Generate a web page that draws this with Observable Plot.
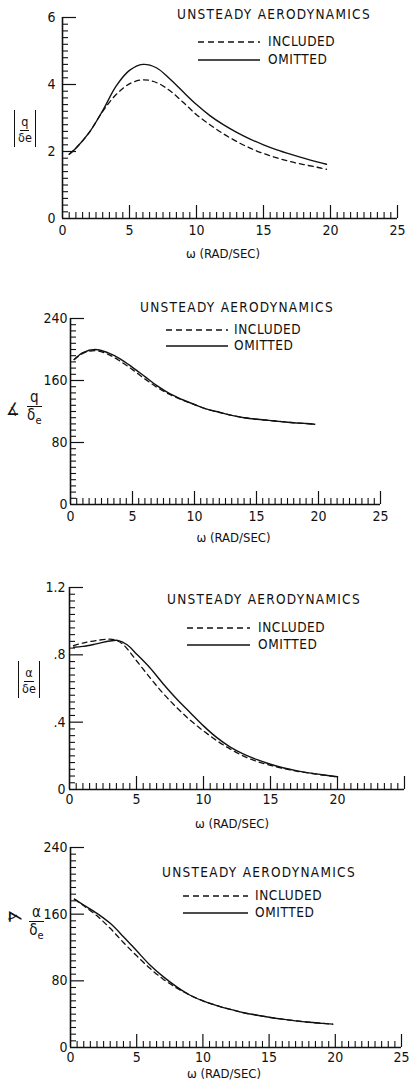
<!DOCTYPE html>
<html>
<head>
<meta charset="utf-8">
<script src="https://cdn.jsdelivr.net/npm/d3@7"></script>
<script src="https://cdn.jsdelivr.net/npm/@observablehq/plot@0.6"></script>
<style>
  html, body { margin: 0; padding: 0; background: #fff; }
  #wrap { position: relative; width: 410px; height: 1092px; overflow: hidden;
    font-family: "Liberation Sans Narrow", "DejaVu Sans Condensed", "Liberation Sans", sans-serif; color: #111; }
  .panel { position: absolute; left: 0; }
  .ov { position: absolute; white-space: nowrap; line-height: 1; }
  .ltitle { font-size: 13.5px; letter-spacing: 1.3px; }
  .ltext { font-size: 13.5px; letter-spacing: 0.6px; }
  .frac { display: inline-flex; flex-direction: column; align-items: center; line-height: 1; }
  .frac .num { border-bottom: 1.3px solid #111; padding: 0 1px 1px 1px; }
  .frac .den { padding-top: 1px; }
  .bars { border-left: 1.5px solid #111; border-right: 1.5px solid #111; padding: 3px 3px; }
</style>
</head>
<body>
<div id="wrap"></div>
<script>
// ---------- text ----------
const xTitle = "ω (RAD/SEC)";
const legendTitle = "UNSTEADY AERODYNAMICS";
const seriesNames = ["INCLUDED", "OMITTED"];

// ---------- tick labels ----------
const xTicksFull = [0, 5, 10, 15, 20, 25];
const xTicksPanel3 = [0, 5, 10, 15, 20];
const yTicks1 = [0, 2, 4, 6];
const yTickText1 = ["0", "2", "4", "6"];
const yTicks2 = [0, 80, 160, 240];
const yTickText2 = ["0", "80", "160", "240"];
const yTicks3 = [0, 0.4, 0.8, 1.2];
const yTickText3 = ["0", ".4", ".8", "1.2"];
const yTicks4 = [0, 80, 160, 240];
const yTickText4 = ["0", "80", "160", "240"];

// ---------- panel 1: |q/δe| ----------
const omega1    = [0.5, 1, 2, 3, 4, 5, 6, 7, 8, 9, 10, 11, 12, 13, 14, 15, 16, 17, 18, 19, 19.7];
const included1 = [1.92, 2.1, 2.57, 3.2, 3.7, 4.02, 4.14, 4.06, 3.82, 3.47, 3.1, 2.8, 2.53, 2.3, 2.1, 1.94, 1.81, 1.7, 1.61, 1.53, 1.47];
const omitted1  = [1.92, 2.1, 2.57, 3.22, 3.95, 4.42, 4.6, 4.5, 4.17, 3.78, 3.4, 3.07, 2.8, 2.57, 2.37, 2.2, 2.05, 1.92, 1.8, 1.69, 1.62];

// ---------- panel 2: ∡ q/δe ----------
const omega2    = [0.3, 1, 2, 3, 4, 5, 6, 7, 8, 9, 10, 11, 12, 13, 14, 15, 16, 17, 18, 19, 19.7];
const included2 = [187, 195, 198.5, 194, 185, 174, 162, 151, 142, 135, 129, 123, 119, 115, 112, 110, 108.5, 107, 105.5, 104.5, 103.5];
const omitted2  = [187, 196, 200, 196, 188, 177, 165, 153, 143, 135.5, 129, 123, 119, 115, 112, 110, 108.5, 107, 105.5, 104.5, 103.5];

// ---------- panel 3: |α/δe| ----------
const omega3i   = [0.3, 1, 2, 3, 3.5, 4, 5, 6, 7, 8, 9, 10, 11, 12, 13, 14, 15, 16, 17, 18, 19, 20];
const included3 = [0.855, 0.87, 0.885, 0.893, 0.885, 0.862, 0.765, 0.665, 0.57, 0.487, 0.412, 0.348, 0.29, 0.24, 0.198, 0.167, 0.143, 0.124, 0.108, 0.096, 0.085, 0.075];
const omega3o   = [0.3, 1, 2, 3, 3.6, 4.3, 5, 6, 7, 8, 9, 10, 11, 12, 13, 14, 15, 16, 17, 18, 19, 20];
const omitted3  = [0.845, 0.85, 0.865, 0.882, 0.886, 0.86, 0.805, 0.723, 0.627, 0.538, 0.458, 0.378, 0.308, 0.252, 0.21, 0.177, 0.15, 0.128, 0.111, 0.097, 0.086, 0.076];

// ---------- panel 4: ∡ α/δe ----------
const omega4    = [0.3, 1, 2, 3, 4, 5, 6, 7, 8, 9, 10, 11, 12, 13, 14, 15, 16, 17, 18, 19, 19.8];
const included4 = [178, 170, 158, 143, 126, 110, 95, 82, 71.5, 63, 56, 50.5, 46, 42, 39, 36.3, 34, 32, 30.3, 29, 28];
const omitted4  = [178, 171, 161, 149, 133, 116, 99, 85, 73, 63, 56, 50.5, 46, 42, 39, 36.3, 34, 32, 30.3, 29, 28];

// ---------- layout (positions only) ----------
const panels = [
  { top: 0, height: 270, mt: 17, mb: 52, ml: 62, mr: 13, ymax: 6, ystep: 0.2,
    yTicks: yTicks1, yText: yTickText1, yPad: 7, xTicks: xTicksFull, xPad: 7,
    omegaI: omega1, omegaO: omega1, included: included1, omitted: omitted1,
    titleDx: -7, titleDy: 39,
    leg: { tx: 177, ty: 15, sx: 198, sw: 62, r1: 42, r2: 60, lx: 268 },
    ylab: { kind: "abs", num: "q", left: 14, top: 110 } },
  { top: 270, height: 290, mt: 48, mb: 56, ml: 70, mr: 30, ymax: 240, ystep: 8,
    yTicks: yTicks2, yText: yTickText2, yPad: 3, xTicks: xTicksFull, xPad: 7,
    omegaI: omega2, omegaO: omega2, included: included2, omitted: omitted2,
    titleDx: 8, titleDy: 37,
    leg: { tx: 140, ty: 308, sx: 166, sw: 62, r1: 330, r2: 346, lx: 234 },
    ylab: { kind: "ang", num: "q", angLeft: 6, angTop: 401, left: 27, top: 389 } },
  { top: 560, height: 270, mt: 27, mb: 41, ml: 69, mr: 6, ymax: 1.2, ystep: 0.04,
    yTicks: yTicks3, yText: yTickText3, yPad: 4, xTicks: xTicksPanel3, xPad: 5,
    omegaI: omega3i, omegaO: omega3o, included: included3, omitted: omitted3,
    titleDx: -5, titleDy: 38,
    leg: { tx: 167, ty: 600, sx: 187, sw: 63, r1: 628, r2: 645, lx: 258 },
    ylab: { kind: "abs", num: "α", left: 18, top: 661 } },
  { top: 830, height: 262, mt: 17, mb: 45, ml: 70, mr: 9, ymax: 240, ystep: 8,
    yTicks: yTicks4, yText: yTickText4, yPad: 3, xTicks: xTicksFull, xPad: 5,
    omegaI: omega4, omegaO: omega4, included: included4, omitted: omitted4,
    titleDx: -12, titleDy: 30,
    leg: { tx: 162, ty: 873, sx: 183, sw: 65, r1: 896, r2: 913, lx: 255 },
    ylab: { kind: "ang", num: "α", rotate: true, angLeft: 8, angTop: 908, left: 29, top: 904 } }
];

const wrap = document.getElementById("wrap");
const FONT = '"Liberation Sans Narrow", "DejaVu Sans Condensed", "Liberation Sans", sans-serif';

function buildPanel(p) {
  const rowsI = p.omegaI.map((w, i) => ({ w, v: p.included[i], s: seriesNames[0] }));
  const rowsO = p.omegaO.map((w, i) => ({ w, v: p.omitted[i], s: seriesNames[1] }));

  const xMinor = d3.range(0, 51).filter(i => i % 10 !== 0).map(i => i * 0.5);
  const xMajor = d3.range(1, 6).map(i => i * 5);
  const yMinor = d3.range(0, 31).filter(i => i % 10 !== 0).map(i => i * p.ystep);
  const yMajor = p.yTicks.filter(v => v !== 0);
  const textOf = new Map(p.yTicks.map((t, i) => [t, p.yText[i]]));

  const chart = Plot.plot({
    width: 410, height: p.height,
    marginTop: p.mt, marginBottom: p.mb, marginLeft: p.ml, marginRight: p.mr,
    x: { domain: [0, 25], label: null },
    y: { domain: [0, p.ymax], label: null },
    style: { fontFamily: FONT, fontSize: "14px", color: "#111", background: "transparent", overflow: "visible" },
    marks: [
      // inward tick marks
      Plot.axisX({ ticks: xMinor, anchor: "bottom", tickSize: 6, dy: -6, tickFormat: () => "", label: null, strokeWidth: 1.1 }),
      Plot.axisX({ ticks: xMajor, anchor: "bottom", tickSize: 13, dy: -13, tickFormat: () => "", label: null, strokeWidth: 1.2 }),
      Plot.axisY({ ticks: yMinor, anchor: "left", tickSize: 6, dx: 6, tickFormat: () => "", label: null, strokeWidth: 1.1 }),
      Plot.axisY({ ticks: yMajor, anchor: "left", tickSize: 14, dx: 14, tickFormat: () => "", label: null, strokeWidth: 1.2 }),
      // tick labels
      Plot.axisX({ ticks: p.xTicks, anchor: "bottom", tickSize: 0, tickPadding: p.xPad, label: null, fontSize: 14 }),
      Plot.axisY({ ticks: p.yTicks, anchor: "left", tickSize: 0, tickPadding: p.yPad, tickFormat: d => textOf.get(d), label: null, fontSize: 14 }),
      // axis lines
      Plot.ruleX([0], { stroke: "#111", strokeWidth: 1.6 }),
      Plot.ruleY([0], { stroke: "#111", strokeWidth: 1.6 }),
      // curves
      Plot.line(rowsO, { x: "w", y: "v", curve: "catmull-rom", stroke: "#111", strokeWidth: 1.4 }),
      Plot.line(rowsI, { x: "w", y: "v", curve: "catmull-rom", stroke: "#111", strokeWidth: 1.3, strokeDasharray: "5,4" }),
      // x title
      Plot.text([xTitle], { frameAnchor: "bottom", dx: p.titleDx, dy: p.titleDy, fontSize: 13, fill: "#111" })
    ]
  });

  const holder = document.createElement("div");
  holder.className = "panel";
  holder.style.top = p.top + "px";
  holder.appendChild(chart);
  wrap.appendChild(holder);

  // legend
  const L = p.leg;
  const t = document.createElement("div");
  t.className = "ov ltitle";
  t.textContent = legendTitle;
  t.style.left = L.tx + "px"; t.style.top = (L.ty - 7) + "px";
  wrap.appendChild(t);
  [[L.r1, "6,4", seriesNames[0]], [L.r2, null, seriesNames[1]]].forEach(([y, dash, name]) => {
    const s = document.createElementNS("http://www.w3.org/2000/svg", "svg");
    s.setAttribute("width", L.sw); s.setAttribute("height", 4);
    s.style.position = "absolute"; s.style.left = L.sx + "px"; s.style.top = (y - 2) + "px";
    const ln = document.createElementNS("http://www.w3.org/2000/svg", "line");
    ln.setAttribute("x1", 0); ln.setAttribute("x2", L.sw); ln.setAttribute("y1", 2); ln.setAttribute("y2", 2);
    ln.setAttribute("stroke", "#111"); ln.setAttribute("stroke-width", 1.3);
    if (dash) ln.setAttribute("stroke-dasharray", dash);
    s.appendChild(ln); wrap.appendChild(s);
    const tx = document.createElement("div");
    tx.className = "ov ltext"; tx.textContent = name;
    tx.style.left = L.lx + "px"; tx.style.top = (y - 7) + "px";
    wrap.appendChild(tx);
  });

  // y-axis label
  const Y = p.ylab;
  if (Y.kind === "abs") {
    const d = document.createElement("div");
    d.className = "ov bars";
    d.style.left = Y.left + "px"; d.style.top = Y.top + "px";
    d.innerHTML = `<div class="frac" style="font-size:12.5px"><span class="num">${Y.num}</span><span class="den">δe</span></div>`;
    wrap.appendChild(d);
  } else {
    const a = document.createElement("div");
    a.className = "ov";
    a.style.left = Y.angLeft + "px"; a.style.top = Y.angTop + "px";
    a.style.fontSize = "17px";
    if (Y.rotate) a.style.transform = "rotate(90deg)";
    a.textContent = "∡";
    wrap.appendChild(a);
    const d = document.createElement("div");
    d.className = "ov";
    d.style.left = Y.left + "px"; d.style.top = Y.top + "px";
    d.innerHTML = `<div class="frac" style="font-size:15px"><span class="num" style="padding:0 3px 1px 3px">${Y.num}</span><span class="den">δ<sub style="font-size:11px">e</sub></span></div>`;
    wrap.appendChild(d);
  }
}

panels.forEach(buildPanel);
</script>
</body>
</html>
